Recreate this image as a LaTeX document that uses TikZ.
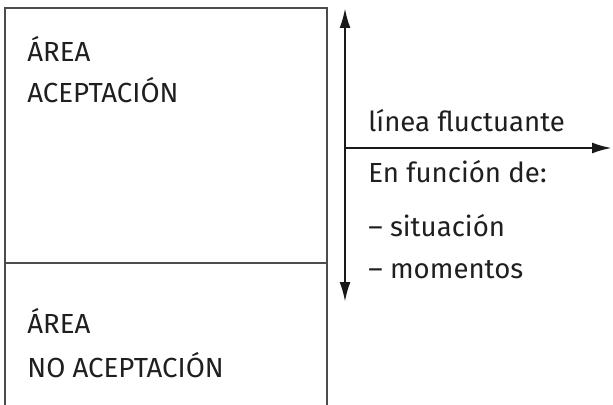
\documentclass[tikz,border=0pt]{standalone}
\usepackage{fontspec}
\setmainfont{Fira Sans}
\usetikzlibrary{arrows.meta}

\begin{document}
\begin{tikzpicture}[x=0.5pt,y=-0.5pt,
        txt/.style={anchor=base west,inner sep=0pt,font=\fontsize{13.8}{15}\selectfont,text=black!88},
        box/.style={draw=black!70,line width=0.7pt},
        axis/.style={line width=1.2pt,draw=black!90,>={Latex[length=10pt,width=5.5pt]}}]
        \useasboundingbox (0,0) rectangle (613,405);
        % zona izquierda
        \draw[box] (5,405) -- (5,8) -- (327,8) -- (327,405);
        \draw[box] (5,263) -- (327,263);
        \node[txt] (a1) at (27,62) {ÁREA};
        \node[txt] (a2) at (27,103) {ACEPTACIÓN};
        \node[txt] (b1) at (27,333) {ÁREA};
        \node[txt] (b2) at (27,377) {NO ACEPTACIÓN};

        % ejes
        \coordinate (top) at (345,8);
        \coordinate (bot) at (345,302);
        \coordinate (o) at (345,148);
        \coordinate (r) at (612,148);
        \draw[axis,<->] (bot) -- (top);
        \draw[axis,->] (o) -- (r);

        \node[txt] (l1) at (368,132) {línea fluctuante};
        \node[txt] (l2) at (368,183) {En función de:};
        \node[txt] (l3) at (368,236) {– situación};
        \node[txt] (l4) at (368,278) {– momentos};
    \end{tikzpicture}
\end{document}
